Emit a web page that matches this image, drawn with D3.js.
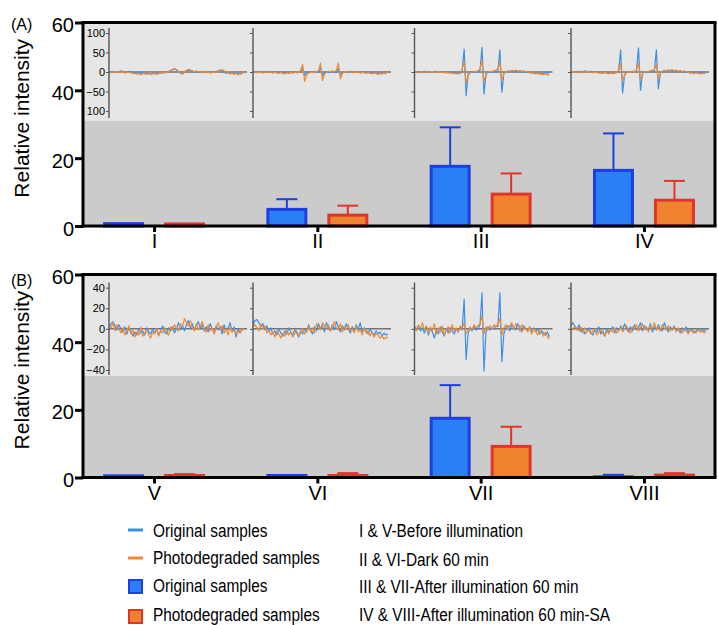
<!DOCTYPE html>
<html>
<head>
<meta charset="utf-8">
<script src="https://cdn.jsdelivr.net/npm/d3@7"></script>
<style>
body { margin: 0; background: #fff; }
svg text { font-family: "Liberation Sans", Arial, sans-serif; fill: #000; }
</style>
</head>
<body>
<svg id="chart" width="718" height="625"></svg>
<script>
// ---- data ----
let groupsA = ["I", "II", "III", "IV"];
let groupsB = ["V", "VI", "VII", "VIII"];

let origA = [0.7, 4.9, 17.6, 16.4];
let origSdA = [0, 3.0, 11.5, 10.9];
let photoA = [0.6, 3.2, 9.4, 7.6];
let photoSdA = [0, 2.8, 6.1, 5.7];

let origB = [0.5, 0.6, 17.5, 0.2];
let origSdB = [0, 0, 9.8, 0.6];
let photoB = [0.6, 0.6, 9.2, 0.7];
let photoSdB = [0.4, 0.7, 5.8, 0.6];

let insetTicksA = [-100, -50, 0, 50, 100];
let insetTicksB = [-40, -20, 0, 20, 40];

// EPR spectra (one array per inset)
let spectraOrigA = [
  [1,0,2,-1,1,0,3,1,-1,0,2,1,0,-2,-1,-3,-4,-2,-5,-3,-4,-6,-3,-5,-2,-4,-3,-1,-2,0,1,3,6,8,5,1,-3,-5,-1,3,5,4,2,0,1,-1,0,2,1,-2,0,-1,1,0,2,3,5,2,-1,-3,-2,-4,-3,-5,-2,-4,-6,-3,-2],
  [0,1,-1,2,0,-1,1,0,2,-1,0,1,-2,0,-1,-3,-1,-2,0,-2,-1,0,-2,-1,1,10,-9,-2,0,1,-1,2,0,-1,11,-10,-1,1,-2,0,1,-1,0,9,-8,-2,0,1,-1,2,0,-1,1,0,-2,1,-1,0,-2,-1,-3,-2,-4,-3,-5,-2,-4,-1,0],
  [0,-2,1,-1,0,2,-1,1,0,-1,2,0,1,-1,0,1,-2,0,-1,1,-2,-3,-2,-4,3,59,-61,-6,-1,0,1,-1,0,4,63,-56,-5,0,1,-1,0,2,3,57,-52,-4,0,2,1,3,2,4,1,0,2,-1,1,0,-2,-1,-3,-2,-4,-3,-6,-4,-2,-3,-1],
  [1,0,-1,2,0,1,-1,3,1,0,2,-1,0,1,-2,-1,-3,-2,-1,-3,-2,-4,-3,-1,4,57,-54,-7,-1,1,0,2,1,5,62,-47,-4,1,0,2,1,3,4,57,-43,-3,1,3,2,5,3,4,2,3,1,2,0,1,-1,0,-2,-1,-3,-2,-1,-2,0,-1,-2]
];
let spectraPhotoA = [
  [0,-2,1,-1,2,-2,0,1,-3,-1,0,-2,-4,-3,-6,-4,-7,-5,-3,-6,-4,-2,-5,-3,-6,-4,-1,-3,0,-2,2,4,7,9,6,2,-2,-4,0,4,7,5,3,1,3,0,2,-1,1,-2,0,-3,-1,1,-1,2,4,6,3,0,-2,-5,-3,-6,-4,-7,-5,-3,-1],
  [-1,0,-2,1,-1,-3,0,-2,1,-1,-3,0,-2,-4,-1,-3,-5,-2,-4,-1,-3,-2,0,-2,4,20,-24,-8,-3,0,-2,1,0,3,23,-22,-6,-1,2,0,3,1,4,23,-18,-4,1,-1,2,0,-2,1,-1,0,-3,-1,-2,-4,-1,-3,-5,-2,-4,-6,-3,-5,-2,-3,-1],
  [-1,0,-2,1,0,-1,2,0,-1,1,0,-2,1,-1,0,-2,-1,-3,-2,-4,-3,-5,-4,-2,6,27,-28,-9,-2,0,2,1,3,8,30,-25,-7,0,2,1,3,5,7,26,-22,-5,1,3,2,4,3,5,2,4,1,3,0,2,-1,-3,-2,-5,-3,-6,-4,-7,-5,-8,-6],
  [0,1,-1,0,2,-2,0,1,-1,2,0,-2,-1,1,-3,-2,-4,-1,-3,-5,-2,-4,-3,-1,5,22,-22,-8,-2,1,-1,2,0,6,24,-20,-6,0,2,1,3,4,6,21,-18,-4,2,4,3,5,4,6,3,5,2,4,1,3,0,-1,-3,-2,-4,-2,-3,-5,-3,-4,-2]
];
let spectraOrigB = [
  [2,5,7,3,-1,4,0,-3,2,-5,1,-2,-7,-3,-6,0,-4,-2,-6,1,-3,-5,0,-4,-1,-6,-2,3,-3,-5,1,-2,2,-4,0,6,-1,3,-2,4,8,1,5,-1,3,7,0,4,-2,2,-3,5,0,-4,3,-1,2,-5,4,-2,1,6,-3,2,-8,0,-4,-1,0],
  [4,8,9,6,2,5,-1,3,-3,1,-5,-2,-6,0,-4,-7,-2,-5,1,-3,-6,-1,-4,-8,-2,-5,0,-3,4,-1,-5,2,-2,5,0,3,-3,6,1,-2,4,-1,7,2,-3,3,-1,5,0,-4,2,-2,4,-1,6,-3,1,-2,-5,0,-4,-6,-2,-5,-3,-7,-4,-6,-5],
  [2,0,3,-2,1,-4,2,-6,0,-3,-9,-1,-5,2,-3,-7,0,-4,1,-2,-5,0,-3,2,-1,29,-30,-4,1,-2,3,-1,0,4,35,-41,-3,2,-1,1,0,3,2,35,-32,-5,1,3,-2,4,1,-1,5,2,-3,3,0,-2,2,-4,1,-3,0,-5,-2,-4,-6,-3,-8],
  [3,6,2,-1,4,-3,0,-5,-2,1,-4,-6,-1,-3,2,-5,-2,-7,0,-3,-1,2,-4,1,-2,3,-1,5,0,-3,2,-2,4,-1,1,6,-2,3,0,-1,5,-3,2,-1,4,0,-2,6,1,-3,2,-1,3,-2,0,-4,1,-2,2,-3,0,-1,-4,-2,0,-3,-1,-2,-1]
];
let spectraPhotoB = [
  [3,1,6,-2,4,0,-4,1,-6,-2,3,-5,-1,-8,-3,-6,2,-7,-4,-1,-6,-9,-3,-5,0,-7,-2,-4,1,-3,-6,2,-1,4,0,-2,5,2,10,6,3,8,1,-2,5,-1,3,7,0,-3,4,-2,1,-5,2,6,-1,3,-4,0,-6,2,-3,-1,-5,-2,-4,0,-1],
  [2,4,1,-2,5,0,3,-4,-1,-6,-3,-8,-2,-5,-9,-4,-7,-1,-6,-3,-8,-5,-2,-7,-4,0,-5,-2,3,-3,1,-4,5,2,-1,6,3,0,4,-2,2,7,1,-1,5,-3,2,-1,4,-2,0,-4,3,-3,-1,-6,1,-4,-2,-7,-3,-8,-5,-6,-9,-7,-10,-8,-9],
  [1,-2,4,0,6,-1,3,-4,2,-2,5,-5,1,-3,3,-6,0,2,-4,4,-2,1,-3,3,0,6,-4,-2,2,-1,4,1,3,5,12,-5,2,-1,3,0,4,2,5,10,-6,1,4,-1,3,6,0,5,2,-2,4,-1,1,-3,2,-5,0,-2,-6,-1,-4,-7,-3,-8,-10],
  [1,-1,3,0,-2,2,-4,1,-3,-1,-5,-2,0,-6,-3,-1,-4,-7,-2,-5,-1,-3,1,-4,-2,2,-3,0,3,-1,-4,2,0,4,-2,1,5,-1,2,-3,3,0,6,-1,2,-2,4,1,-1,3,-2,0,2,-3,1,-1,-4,0,-2,-5,-1,-3,-2,-4,-1,-3,-2,-4,-3]
];

let lineLegend = ["Original samples", "Photodegraded samples"];
let barLegend = ["Original samples", "Photodegraded samples"];
let notes = [
  "I & V-Before illumination",
  "II & VI-Dark 60 min",
  "III & VII-After illumination 60 min",
  "IV & VIII-After illumination 60 min-SA"
];

// ---- layout ----
let plotLeft = 83, plotRight = 715;
let insetLeft = [109, 253, 414.5, 571];
let traceWidth = 135, zeroWidth = 138;
let narrow = 0.81;   // the legend font is a condensed sans

let colOrigLine = "#3d8fe6", colPhotoLine = "#ee8a34";
let colOrigFill = "#2a7ff6", colOrigStroke = "#1c3fe0";
let colPhotoFill = "#ee822e", colPhotoStroke = "#e2352a";

let svg = d3.select("#chart");

let panels = [
  {id: "A", label: "(A)", labelY: 30, groups: groupsA, top: 22.5, bottom: 226, split: 31,
   orig: origA, origSd: origSdA, photo: photoA, photoSd: photoSdA,
   insetDomain: [-100, 100], insetTicks: insetTicksA, insetRange: [10.5, 88.5], insetAxis: [5.5, 95.5],
   specOrig: spectraOrigA, specPhoto: spectraPhotoA},
  {id: "B", label: "(B)", labelY: 286, groups: groupsB, top: 274.5, bottom: 477.5, split: 30,
   orig: origB, origSd: origSdB, photo: photoB, photoSd: photoSdB,
   insetDomain: [-40, 40], insetTicks: insetTicksB, insetRange: [13.2, 95.5], insetAxis: [8, 100.5],
   specOrig: spectraOrigB, specPhoto: spectraPhotoB}
];

panels.forEach(drawPanel);

function drawPanel(p) {
  let g = svg.append("g");
  let y = d3.scaleLinear().domain([0, 60]).range([p.bottom, p.top]);
  let x = d3.scalePoint().domain(p.groups).range([plotLeft, plotRight]).padding(0.435);
  let xs = d3.scaleBand().domain(["orig", "photo"]).range([-61, 61])
      .paddingInner(0.377).paddingOuter(0.189);

      //two gray backgrounds: inset strip on top, bar area below
  g.append("rect")
      .attr("x", plotLeft).attr("y", p.top)
      .attr("width", plotRight - plotLeft).attr("height", y(p.split) - p.top)
      .attr("fill", "#e6e6e6");
  g.append("rect")
      .attr("x", plotLeft).attr("y", y(p.split))
      .attr("width", plotRight - plotLeft).attr("height", p.bottom - y(p.split))
      .attr("fill", "#cbcbcb");

      //insets, clipped to the light strip
  svg.append("clipPath").attr("id", "clip" + p.id)
      .append("rect")
      .attr("x", plotLeft + 3).attr("y", p.top)
      .attr("width", plotRight - plotLeft - 3).attr("height", y(p.split) - p.top);

  let insets = g.append("g").attr("clip-path", `url(#clip${p.id})`);
  let iy = d3.scaleLinear().domain(p.insetDomain)
      .range([p.top + p.insetRange[1], p.top + p.insetRange[0]]);

  p.groups.forEach((grp, k) => {
    let left = insetLeft[k];
    let ig = insets.append("g");

    ig.append("line")
        .attr("x1", left).attr("x2", left + zeroWidth)
        .attr("y1", iy(0)).attr("y2", iy(0))
        .attr("stroke", "#3a3a3a").attr("stroke-width", 1);

    [p.specOrig[k], p.specPhoto[k]].forEach((spec, s) => {
      let ix = d3.scaleLinear().domain([0, spec.length - 1]).range([left, left + traceWidth]);
      ig.append("path")
          .datum(spec)
          .attr("fill", "none")
          .attr("stroke", s === 0 ? colOrigLine : colPhotoLine)
          .attr("stroke-width", 1.2)
          .attr("stroke-linejoin", "round")
          .attr("d", d3.line().x((d, i) => ix(i)).y(d => iy(d)));
    });

    let ax = ig.append("g")
        .attr("transform", `translate(${left},0)`)
        .call(d3.axisLeft(iy).tickValues(p.insetTicks).tickSize(3).tickPadding(1)
            .tickFormat(k === 0 ? d3.format("d") : () => ""));
    ax.select(".domain").remove();
    ax.selectAll(".tick line").attr("stroke", "#555");
    ax.selectAll("text").style("font-size", "11px").attr("fill", "#333");
    ig.append("line")
        .attr("x1", left).attr("x2", left)
        .attr("y1", p.top + p.insetAxis[0]).attr("y2", p.top + p.insetAxis[1])
        .attr("stroke", "#555").attr("stroke-width", 1.4);
  });

      //bars
  let rows = p.groups.map((grp, i) => [
    {grp: grp, key: "orig", v: p.orig[i], sd: p.origSd[i], fill: colOrigFill, stroke: colOrigStroke},
    {grp: grp, key: "photo", v: p.photo[i], sd: p.photoSd[i], fill: colPhotoFill, stroke: colPhotoStroke}
  ]).flat();

  let bars = g.append("g").selectAll("g").data(rows).enter().append("g")
      .attr("transform", d => `translate(${x(d.grp) + xs(d.key)},0)`);

  bars.filter(d => d.sd > 0).append("line")
      .attr("x1", xs.bandwidth() / 2).attr("x2", xs.bandwidth() / 2)
      .attr("y1", d => y(d.v)).attr("y2", d => y(d.v + d.sd))
      .attr("stroke", d => d.stroke).attr("stroke-width", 2);
  bars.filter(d => d.sd > 0).append("line")
      .attr("x1", xs.bandwidth() / 2 - 10.5).attr("x2", xs.bandwidth() / 2 + 10.5)
      .attr("y1", d => y(d.v + d.sd)).attr("y2", d => y(d.v + d.sd))
      .attr("stroke", d => d.stroke).attr("stroke-width", 2);
  bars.append("rect")
      .attr("x", 0).attr("width", xs.bandwidth())
      .attr("y", d => y(d.v)).attr("height", d => y(0) - y(d.v))
      .attr("fill", d => d.fill)
      .attr("stroke", d => d.stroke).attr("stroke-width", 3);

      //frame: top and right border
  g.append("line")
      .attr("x1", plotLeft).attr("x2", plotRight + 1.5)
      .attr("y1", p.top).attr("y2", p.top)
      .attr("stroke", "#000").attr("stroke-width", 3);
  g.append("line")
      .attr("x1", plotRight).attr("x2", plotRight)
      .attr("y1", p.top).attr("y2", p.bottom)
      .attr("stroke", "#000").attr("stroke-width", 3);

      //y axis
  let yAxis = g.append("g")
      .attr("transform", `translate(${plotLeft},0)`)
      .call(d3.axisLeft(y).tickValues([0, 20, 40, 60]).tickSize(8).tickPadding(1));
  yAxis.select(".domain").remove();
  yAxis.selectAll(".tick line").attr("stroke", "#000").attr("stroke-width", 3);
  yAxis.selectAll("text").style("font-size", "20px").attr("dy", "0.45em");
  g.append("line")
      .attr("x1", plotLeft).attr("x2", plotLeft)
      .attr("y1", p.top - 1.5).attr("y2", p.bottom + 1.5)
      .attr("stroke", "#000").attr("stroke-width", 3);

      //x axis
  let xAxis = g.append("g")
      .attr("transform", `translate(0,${p.bottom})`)
      .call(d3.axisBottom(x).tickSize(6).tickPadding(2));
  xAxis.select(".domain").remove();
  xAxis.selectAll(".tick line").attr("stroke", "#000").attr("stroke-width", 3);
  xAxis.selectAll("text").style("font-size", "20px");
  g.append("line")
      .attr("x1", plotLeft - 1.5).attr("x2", plotRight + 1.5)
      .attr("y1", p.bottom).attr("y2", p.bottom)
      .attr("stroke", "#000").attr("stroke-width", 3);

      //titles
  g.append("text")
      .attr("transform", `translate(29,${(p.top + p.bottom) / 2 - 6}) rotate(-90)`)
      .attr("text-anchor", "middle")
      .style("font-size", "21px")
      .text("Relative intensity");
  g.append("text")
      .attr("x", 11).attr("y", p.labelY)
      .style("font-size", "16px")
      .text(p.label);
}

// ---- legend ----
let legend = svg.append("g").attr("class", "legend");
let lineRowY = [530, 558];
let squareRowY = [580, 610];
let textRowY = [537, 564, 592, 621];
let noteRowY = [537, 566, 593, 621];

lineLegend.forEach((name, i) => {
  legend.append("line")
      .attr("x1", 128).attr("x2", 143)
      .attr("y1", lineRowY[i]).attr("y2", lineRowY[i])
      .attr("stroke", i === 0 ? colOrigLine : colPhotoLine)
      .attr("stroke-width", 3);
});
barLegend.forEach((name, i) => {
  legend.append("rect")
      .attr("x", 129).attr("y", squareRowY[i])
      .attr("width", 13).attr("height", 13)
      .attr("fill", i === 0 ? colOrigFill : colPhotoFill)
      .attr("stroke", i === 0 ? colOrigStroke : colPhotoStroke)
      .attr("stroke-width", 2);
});

    //condensed text: squeeze Liberation Sans horizontally
function legendText(x, y, t) {
  legend.append("text")
      .attr("transform", `translate(${x},${y}) scale(${narrow},1)`)
      .style("font-size", "19px")
      .text(t);
}
lineLegend.concat(barLegend).forEach((name, i) => legendText(153, textRowY[i], name));
notes.forEach((t, i) => legendText(359, noteRowY[i], t));
</script>
</body>
</html>
